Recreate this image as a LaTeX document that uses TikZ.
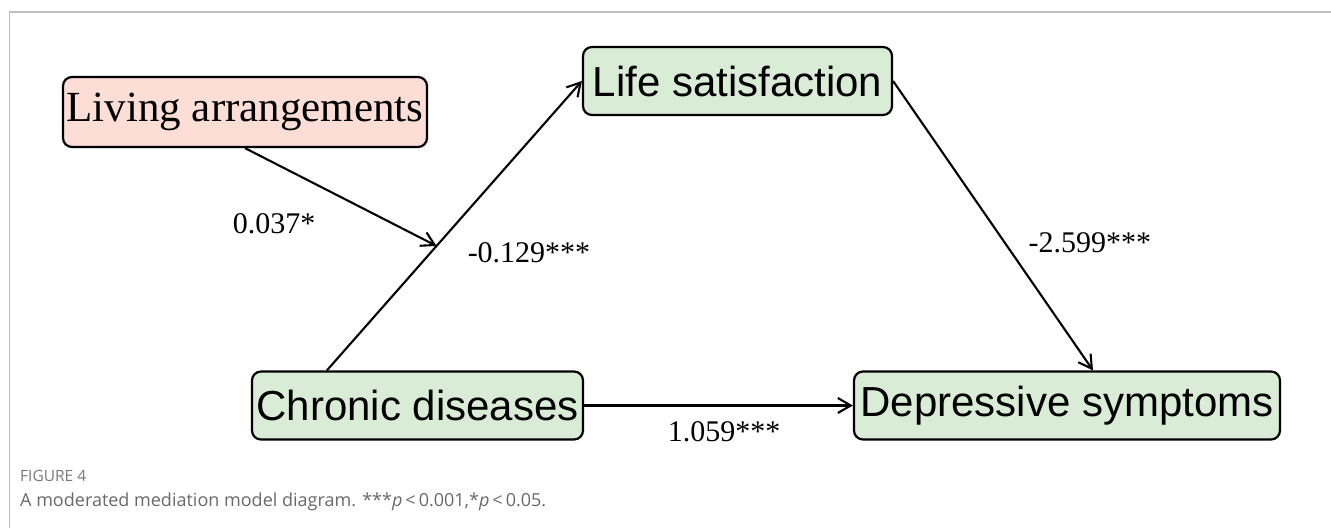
\documentclass[tikz,border=0pt]{standalone}
\usepackage{fontspec}
\setmainfont{Liberation Serif}
\setsansfont{Liberation Sans}
\newfontfamily\capfont{Open Sans}
\usetikzlibrary{arrows.meta, positioning}
\definecolor{modfill}{RGB}{252,222,214}
\definecolor{varfill}{RGB}{217,237,214}
\definecolor{framegray}{RGB}{192,192,192}
\definecolor{capgray}{RGB}{105,105,105}

\begin{document}
\begin{tikzpicture}[x=1pt, y=-1pt,
    >={Straight Barb[length=13pt, width=15pt]},
    var/.style={draw, line width=2.2pt, rounded corners=9pt, fill=varfill,
      inner sep=0pt, minimum height=68pt, font=\sffamily\fontsize{42}{48}\selectfont},
    moderator/.style={var, fill=modfill, font=\rmfamily\fontsize{43}{48}\selectfont},
    conn/.style={->, line width=2.1pt},
    coef/.style={font=\rmfamily\fontsize{30}{36}\selectfont},
    caption/.style={anchor=base west, text=capgray, inner sep=0pt},
  ]
  \useasboundingbox (0,0) rectangle (1331,528);
  % frame of the figure
  \draw[framegray, line width=1.5pt] (9.7,528) -- (9.7,12) -- (1331,12);

  \node[moderator, minimum width=364pt, minimum height=70pt] (living) at (245,112) {Living arrangements};
  \node[var, minimum width=309pt] (life) at (737.5,81) {Life satisfaction};
  \node[var, minimum width=331pt] (chronic) at (417.5,405.5) {Chronic diseases};
  \node[var, minimum width=426pt] (depr) at (1067,405.5) {Depressive symptoms};

  \draw[conn] (chronic.north west) ++(76,0) -- coordinate[pos=0.43] (modpt) (life.west);
  \draw[conn] (life.east) -- ([xshift=26pt]depr.north);
  \draw[conn] (chronic.east) -- (depr.west);
  \draw[conn] (living.south) -- (modpt);

  \node[coef] (c37) at (274,224) {0.037*};
  \node[coef] (c129) at (529,253) {-0.129***};
  \node[coef, anchor=west] (c2599) at (1025,243) {-2.599***};
  \node[coef] (c1059) at (724,432) {1.059***};

  \node[caption, font=\capfont\fontsize{15.5}{18}\selectfont, text=capgray!90] (figno) at (20,481) {FIGURE 4};
  \node[caption, font=\capfont\fontsize{18}{21}\selectfont] (figtext) at (20,506)
    {A moderated mediation model diagram. ***\textit{p}\,<\,0.001,*\textit{p}\,<\,0.05.};
\end{tikzpicture}
\end{document}
